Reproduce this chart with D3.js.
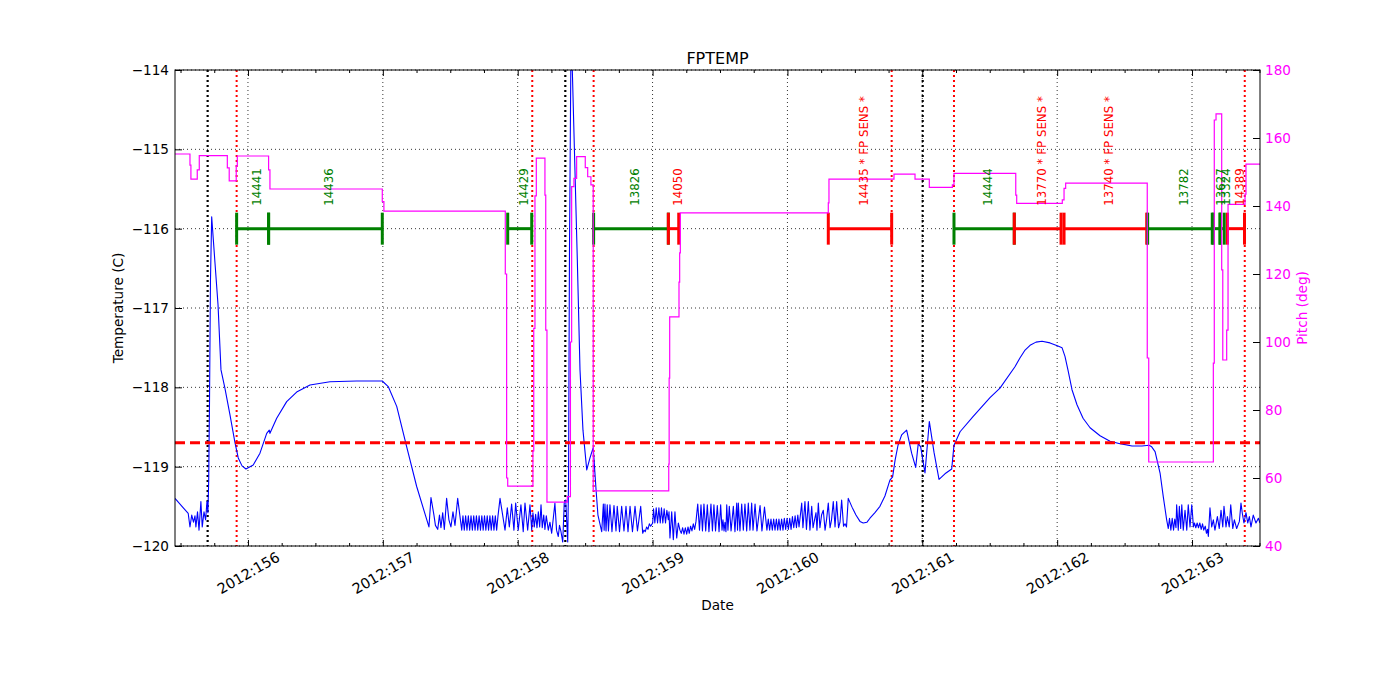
<!DOCTYPE html>
<html><head><meta charset="utf-8">
<script src="https://cdn.jsdelivr.net/npm/d3@7"></script>
<style>body{margin:0;background:#fff}svg{font-family:"DejaVu Sans",sans-serif}</style>
</head><body>
<svg id="c" width="1400" height="700"></svg>
<script>
const chartTitle = "FPTEMP";
const xLabel = "Date";
const yLeftLabel = "Temperature (C)";
const yRightLabel = "Pitch (deg)";
const xDomain = [155.459, 163.504];
const xTicks = [156, 157, 158, 159, 160, 161, 162, 163];
const xTickLabels = ["2012:156", "2012:157", "2012:158", "2012:159", "2012:160", "2012:161", "2012:162", "2012:163"];
const tempTicks = [-120, -119, -118, -117, -116, -115, -114];
const tempTickLabels = ["\u2212120", "\u2212119", "\u2212118", "\u2212117", "\u2212116", "\u2212115", "\u2212114"];
const pitchTicks = [40, 60, 80, 100, 120, 140, 160, 180];
const tempLimit = -118.7;
const barLevel = -116;
const blackLines = [155.701, 158.353, 161.003];
const redLines = [155.916, 158.108, 158.563, 160.773, 161.235, 163.391];
const segStart = [155.916, 156.153, 157.926, 158.563, 159.117, 160.303, 161.235, 161.682, 162.051, 162.671, 163.158, 163.208, 163.263];
const segEnd   = [156.153, 156.996, 158.104, 159.117, 159.194, 160.773, 161.682, 162.029, 162.664, 163.150, 163.208, 163.239, 163.389];
const segLabel = ["14441", "14436", "14429", "13826", "14050", "14435 * FP SENS *", "14444", "13770 * FP SENS *", "13740 * FP SENS *", "13782", "13627", "13324", "14389"];
const segColor = ["green", "green", "green", "green", "red", "red", "green", "red", "red", "green", "green", "green", "red"];

const tempData = [
[155.459,-119.40],[155.557,-119.59],[155.570,-119.76],[155.583,-119.61],[155.596,-119.70],[155.607,-119.62],[155.614,-119.76],[155.626,-119.57],[155.637,-119.80],[155.651,-119.44],[155.661,-119.76],[155.674,-119.57],[155.686,-119.67],[155.696,-119.44],[155.703,-119.58],[155.709,-119.17],[155.715,-118.16],[155.722,-116.65],[155.731,-115.85],[155.755,-116.42],[155.778,-116.96],[155.800,-117.78],[155.829,-118.01],[155.867,-118.35],[155.904,-118.70],[155.928,-118.89],[155.956,-118.99],[155.985,-119.03],[156.039,-118.98],[156.089,-118.83],[156.139,-118.58],[156.158,-118.54],[156.163,-118.58],[156.213,-118.39],[156.287,-118.18],[156.361,-118.06],[156.460,-117.97],[156.608,-117.93],[156.806,-117.92],[156.996,-117.92],[157.040,-117.99],[157.103,-118.24],[157.177,-118.75],[157.251,-119.25],[157.342,-119.76],
[157.357,-119.39],[157.379,-119.61],[157.390,-119.74],[157.407,-119.79],[157.420,-119.61],[157.431,-119.77],[157.444,-119.58],[157.456,-119.79],[157.473,-119.40],[157.490,-119.67],[157.505,-119.76],[157.520,-119.57],[157.535,-119.74],[157.555,-119.40],[157.585,-119.80],
[157.594,-119.62],[157.604,-119.80],[157.614,-119.62],[157.624,-119.80],[157.634,-119.62],[157.644,-119.80],[157.654,-119.62],[157.664,-119.80],[157.674,-119.62],[157.684,-119.80],[157.694,-119.62],[157.704,-119.80],[157.714,-119.62],[157.724,-119.80],[157.734,-119.62],[157.744,-119.80],[157.754,-119.62],[157.764,-119.80],[157.774,-119.62],[157.784,-119.80],[157.794,-119.62],[157.804,-119.80],[157.814,-119.62],[157.824,-119.80],[157.834,-119.62],[157.844,-119.80],[157.854,-119.62],
[157.869,-119.40],[157.906,-119.80],[157.923,-119.52],[157.938,-119.76],[157.955,-119.47],[157.972,-119.80],[157.985,-119.46],[158.004,-119.80],[158.024,-119.48],[158.041,-119.82],[158.054,-119.46],[158.074,-119.80],[158.091,-119.48],[158.104,-119.80],
[158.113,-119.58],[158.123,-119.76],[158.133,-119.60],[158.143,-119.77],[158.153,-119.57],[158.163,-119.76],[158.173,-119.48],[158.182,-119.77],[158.193,-119.61],[158.202,-119.79],[158.212,-119.62],[158.227,-119.80],[158.239,-119.70],[158.252,-119.84],[158.276,-119.46],[158.288,-119.80],[158.301,-119.88],[158.310,-119.74],[158.321,-119.82],[158.334,-119.95],[158.345,-119.46],[158.356,-119.42],[158.371,-119.95],[158.377,-119.17],[158.384,-116.27],[158.395,-113.69],[158.405,-114.00],[158.442,-116.39],[158.462,-117.78],[158.484,-118.54],[158.512,-119.04],[158.536,-118.89],[158.560,-118.76],[158.581,-119.29],[158.595,-119.61],[158.623,-119.82],
[158.635,-119.47],[158.641,-119.80],[158.647,-119.47],[158.655,-119.81],[158.664,-119.48],[158.673,-119.81],[158.684,-119.48],[158.699,-119.82],[158.714,-119.49],[158.729,-119.81],[158.738,-119.50],[158.755,-119.82],[158.771,-119.50],[158.788,-119.81],[158.803,-119.50],[158.818,-119.82],[158.833,-119.50],[158.851,-119.82],[158.870,-119.50],[158.888,-119.81],[158.912,-119.50],[158.927,-119.84],[158.936,-119.80],[158.946,-119.82],[158.956,-119.76],[158.966,-119.79],[158.976,-119.72],[158.986,-119.75],[159.001,-119.71],
[159.007,-119.53],[159.017,-119.71],[159.027,-119.52],[159.037,-119.71],[159.047,-119.52],[159.057,-119.71],[159.066,-119.52],[159.076,-119.71],[159.086,-119.53],[159.096,-119.71],[159.106,-119.55],[159.117,-119.67],[159.122,-119.57],[159.129,-119.90],[159.142,-119.57],[159.154,-119.92],[159.166,-119.57],[159.179,-119.90],[159.191,-119.71],[159.203,-119.80],
[159.213,-119.84],[159.223,-119.77],[159.233,-119.85],[159.243,-119.77],[159.253,-119.85],[159.263,-119.76],[159.272,-119.84],[159.282,-119.75],[159.292,-119.81],[159.302,-119.72],[159.312,-119.79],[159.322,-119.69],
[159.335,-119.47],[159.348,-119.80],[159.359,-119.48],[159.370,-119.81],[159.381,-119.47],[159.394,-119.81],[159.406,-119.48],[159.418,-119.82],[159.433,-119.47],[159.444,-119.81],[159.455,-119.48],[159.467,-119.81],[159.480,-119.49],[159.493,-119.82],[159.505,-119.48],[159.515,-119.80],[159.522,-119.67],[159.530,-119.81],[159.537,-119.70],[159.544,-119.82],[159.550,-119.48],[159.559,-119.80],[159.569,-119.50],[159.582,-119.81],[159.599,-119.50],[159.611,-119.82],[159.624,-119.46],[159.630,-119.80],[159.636,-119.46],[159.648,-119.81],[159.661,-119.47],[159.673,-119.80],[159.685,-119.47],[159.698,-119.81],[159.710,-119.46],[159.722,-119.80],[159.735,-119.46],[159.745,-119.80],[159.760,-119.47],[159.774,-119.81],[159.797,-119.49],[159.811,-119.81],[159.830,-119.51],[159.848,-119.80],
[159.858,-119.66],[159.868,-119.80],[159.878,-119.66],[159.888,-119.80],[159.898,-119.66],[159.908,-119.80],[159.918,-119.66],[159.928,-119.80],[159.937,-119.66],[159.947,-119.80],[159.957,-119.66],[159.967,-119.80],[159.977,-119.65],[159.987,-119.79],[159.997,-119.65],[160.007,-119.79],[160.017,-119.65],[160.027,-119.79],[160.037,-119.63],[160.047,-119.77],[160.057,-119.62],[160.067,-119.77],[160.077,-119.61],[160.086,-119.76],
[160.106,-119.46],[160.115,-119.77],[160.130,-119.44],[160.141,-119.79],[160.155,-119.44],[160.167,-119.80],[160.180,-119.50],[160.190,-119.77],[160.201,-119.67],[160.212,-119.58],[160.219,-119.80],[160.229,-119.46],[160.241,-119.77],[160.253,-119.61],[160.266,-119.55],[160.279,-119.80],[160.290,-119.67],[160.303,-119.46],[160.316,-119.77],[160.327,-119.67],[160.340,-119.44],[160.353,-119.76],[160.365,-119.44],[160.379,-119.77],[160.390,-119.70],[160.402,-119.42],[160.416,-119.75],[160.427,-119.72],[160.438,-119.76],[160.451,-119.40],
[160.479,-119.51],[160.508,-119.61],[160.538,-119.69],[160.562,-119.71],[160.590,-119.70],[160.612,-119.65],[160.649,-119.58],[160.686,-119.50],[160.723,-119.37],[160.760,-119.17],[160.780,-119.13],[160.798,-118.92],[160.820,-118.73],[160.847,-118.60],[160.884,-118.54],[160.921,-118.83],[160.951,-119.01],[160.970,-118.71],[160.988,-118.75],[161.020,-119.08],[161.052,-118.43],[161.087,-118.82],[161.124,-119.16],[161.168,-119.09],[161.218,-119.03],[161.235,-118.73],[161.280,-118.56],[161.376,-118.37],[161.502,-118.13],[161.576,-118.01],[161.687,-117.74],[161.724,-117.63],[161.762,-117.53],[161.799,-117.47],[161.843,-117.43],[161.888,-117.42],[161.947,-117.44],[162.006,-117.48],[162.036,-117.50],[162.058,-117.61],[162.080,-117.78],[162.110,-118.03],[162.147,-118.22],[162.192,-118.39],[162.244,-118.51],[162.318,-118.61],[162.392,-118.68],[162.466,-118.71],[162.555,-118.74],[162.629,-118.74],[162.681,-118.73],[162.701,-118.75],[162.726,-118.81],[162.763,-119.08],[162.787,-119.38],[162.812,-119.67],[162.824,-119.78],
[162.833,-119.65],[162.843,-119.80],[162.853,-119.65],[162.863,-119.80],[162.872,-119.66],[162.881,-119.77],[162.886,-119.48],[162.898,-119.80],[162.906,-119.50],[162.916,-119.78],[162.924,-119.48],[162.935,-119.80],[162.948,-119.55],[162.961,-119.80],[162.972,-119.48],[162.985,-119.76],[162.998,-119.48],[163.005,-119.63],[163.010,-119.76],[163.018,-119.71],[163.028,-119.77],[163.038,-119.71],[163.048,-119.77],[163.058,-119.71],[163.068,-119.79],[163.078,-119.72],[163.087,-119.80],[163.098,-119.75],[163.107,-119.84],[163.115,-119.79],[163.121,-119.88],[163.133,-119.52],[163.146,-119.76],[163.158,-119.67],[163.170,-119.80],[163.188,-119.63],[163.202,-119.78],[163.215,-119.55],[163.228,-119.76],[163.237,-119.50],[163.252,-119.76],[163.262,-119.63],[163.276,-119.76],[163.287,-119.48],[163.302,-119.78],[163.314,-119.67],[163.331,-119.78],[163.351,-119.69],[163.363,-119.46],[163.373,-119.59],[163.385,-119.71],[163.400,-119.58],[163.413,-119.71],[163.425,-119.63],[163.437,-119.76],[163.454,-119.61],[163.474,-119.71],[163.492,-119.65],[163.504,-119.71]
];

const pitchData = [
[155.459,155.3],[155.570,152.0],[155.577,147.9],[155.624,150.6],[155.639,154.8],[155.847,151.2],[155.861,147.4],[155.913,151.8],[155.921,154.7],[156.153,150.6],[156.163,145.0],[156.996,141.3],[157.008,138.5],[157.908,120.0],[157.918,60.0],[157.926,57.6],[158.113,68.0],[158.119,104.0],[158.128,143.0],[158.138,154.1],[158.202,143.2],[158.208,103.5],[158.217,52.9],[158.368,54.5],[158.391,100.0],[158.400,145.7],[158.417,148.1],[158.437,154.5],[158.501,151.3],[158.519,148.6],[158.543,146.2],[158.560,56.2],[159.120,64.1],[159.123,89.4],[159.127,107.4],[159.196,117.6],[159.201,126.2],[159.206,138.0],[160.303,140.9],[160.308,147.9],[160.790,149.4],[160.946,147.9],[161.052,145.5],[161.223,146.2],[161.235,149.6],[161.693,143.2],[161.700,140.8],[162.038,141.8],[162.051,145.2],[162.063,146.7],[162.668,95.3],[162.679,64.7],[163.158,93.8],[163.165,165.3],[163.178,167.1],[163.220,121.2],[163.228,94.7],[163.257,103.5],[163.267,140.5],[163.393,143.5],[163.400,152.3],[163.504,152.3]
];

const svg = d3.select("#c");
const L = 175, R = 1260, T = 70, B = 546;
const x = d3.scaleLinear().domain(xDomain).range([L, R]);
const yT = d3.scaleLinear().domain([tempTicks[0], tempTicks[tempTicks.length-1]]).range([B, T]);
const yP = d3.scaleLinear().domain([pitchTicks[0], pitchTicks[pitchTicks.length-1]]).range([B, T]);
const tickFont = "13.6px";

svg.append("defs").append("clipPath").attr("id","clip")
  .append("rect").attr("x",L).attr("y",T).attr("width",R-L).attr("height",B-T);

// grid
const grid = svg.append("g");
grid.selectAll("line.gx").data(xTicks).join("line")
  .attr("x1", d=>x(d)).attr("x2", d=>x(d)).attr("y1", T).attr("y2", B)
  .attr("stroke","#000").attr("stroke-width",0.8).attr("stroke-dasharray","1,3");
grid.selectAll("line.gy").data(tempTicks).join("line")
  .attr("x1", L).attr("x2", R).attr("y1", d=>yT(d)).attr("y2", d=>yT(d))
  .attr("stroke","#000").attr("stroke-width",0.8).attr("stroke-dasharray","1,3");

const plot = svg.append("g").attr("clip-path","url(#clip)");

// vertical event lines
plot.selectAll("line.bk").data(blackLines).join("line")
  .attr("x1", d=>x(d)).attr("x2", d=>x(d)).attr("y1", T).attr("y2", B)
  .attr("stroke","#000").attr("stroke-width",2.2).attr("stroke-dasharray","2,3");
plot.selectAll("line.rd").data(redLines).join("line")
  .attr("x1", d=>x(d)).attr("x2", d=>x(d)).attr("y1", T).attr("y2", B)
  .attr("stroke","#ff0000").attr("stroke-width",2).attr("stroke-dasharray","2,3");

// temperature line
plot.append("path").datum(tempData)
  .attr("d", d3.line().x(d=>x(d[0])).y(d=>yT(d[1])))
  .attr("fill","none").attr("stroke","#0000ff").attr("stroke-width",1.1).attr("stroke-linejoin","round");

// limit line
plot.append("line").attr("x1",L).attr("x2",R).attr("y1",yT(tempLimit)).attr("y2",yT(tempLimit))
  .attr("stroke","#ff0000").attr("stroke-width",3).attr("stroke-dasharray","10,5");

// observation segments
const yb = yT(barLevel);
const seg = plot.append("g");
segStart.forEach((s,i)=>{
  const c = segColor[i] === "green" ? "#008000" : "#ff0000";
  seg.append("line").attr("x1",x(s)).attr("x2",x(segEnd[i])).attr("y1",yb).attr("y2",yb)
    .attr("stroke",c).attr("stroke-width",3);
  [s, segEnd[i]].forEach(v=>{
    seg.append("line").attr("x1",x(v)).attr("x2",x(v)).attr("y1",yb-16).attr("y2",yb+16)
      .attr("stroke",c).attr("stroke-width",3);
  });
});
const lab = svg.append("g");
segStart.forEach((s,i)=>{
  const mid = (x(s)+x(segEnd[i]))/2;
  lab.append("text").attr("transform",`translate(${mid+8},${yb-23}) rotate(-90)`)
    .attr("text-anchor","start").attr("font-size","11.8px")
    .attr("fill", segColor[i] === "green" ? "#008000" : "#ff0000").text(segLabel[i]);
});

// pitch line (twin axes, on top)
plot.append("path").datum(pitchData)
  .attr("d", d3.line().x(d=>x(d[0])).y(d=>yP(d[1])).curve(d3.curveStepAfter))
  .attr("fill","none").attr("stroke","#ff00ff").attr("stroke-width",1.2);

// frame
svg.append("rect").attr("x",L).attr("y",T).attr("width",R-L).attr("height",B-T)
  .attr("fill","none").attr("stroke","#000").attr("stroke-width",1);

// axes
const minor = d3.range(155.5, 163.51, 0.25).filter(v=>!xTicks.includes(v));
function styleAxis(g){ g.select(".domain").remove(); g.selectAll("line").attr("stroke","#000"); }
const xb = svg.append("g").attr("transform",`translate(0,${B})`)
  .call(d3.axisBottom(x).tickValues(xTicks).tickFormat((d,i)=>xTickLabels[i]).tickSize(-6)).call(styleAxis);
xb.selectAll("text").attr("y",0).attr("dy",null).attr("font-size","14.4px").attr("font-family","DejaVu Sans")
  .attr("fill","#000").attr("text-anchor","middle").attr("dominant-baseline","central")
  .attr("transform","translate(0,27) rotate(-30)");
svg.append("g").attr("transform",`translate(0,${B})`)
  .call(d3.axisBottom(x).tickValues(minor).tickFormat("").tickSize(-3)).call(styleAxis);
svg.append("g").attr("transform",`translate(0,${T})`)
  .call(d3.axisTop(x).tickValues(xTicks).tickFormat("").tickSize(-6)).call(styleAxis);
svg.append("g").attr("transform",`translate(0,${T})`)
  .call(d3.axisTop(x).tickValues(minor).tickFormat("").tickSize(-3)).call(styleAxis);

const yl = svg.append("g").attr("transform",`translate(${L},0)`)
  .call(d3.axisLeft(yT).tickValues(tempTicks).tickFormat((d,i)=>tempTickLabels[i]).tickSize(-7).tickPadding(6)).call(styleAxis);
yl.selectAll("text").attr("font-size",tickFont).attr("font-family","DejaVu Sans").attr("fill","#000");

const yr = svg.append("g").attr("transform",`translate(${R},0)`)
  .call(d3.axisRight(yP).tickValues(pitchTicks).tickSize(-7).tickPadding(5)).call(styleAxis);
yr.selectAll("text").attr("font-size",tickFont).attr("font-family","DejaVu Sans").attr("fill","#ff00ff");

// titles
svg.append("text").attr("x",(L+R)/2).attr("y",58).attr("text-anchor","middle").attr("dominant-baseline","central")
  .attr("font-size","16px").text(chartTitle);
svg.append("text").attr("x",(L+R)/2).attr("y",605).attr("text-anchor","middle").attr("dominant-baseline","central")
  .attr("font-size",tickFont).text(xLabel);
svg.append("text").attr("transform",`translate(118,${(T+B)/2}) rotate(-90)`).attr("text-anchor","middle")
  .attr("dominant-baseline","central").attr("font-size",tickFont).text(yLeftLabel);
svg.append("text").attr("transform",`translate(1302,${(T+B)/2}) rotate(-90)`).attr("text-anchor","middle")
  .attr("dominant-baseline","central").attr("font-size",tickFont).attr("fill","#ff00ff").text(yRightLabel);
</script>
</body></html>
